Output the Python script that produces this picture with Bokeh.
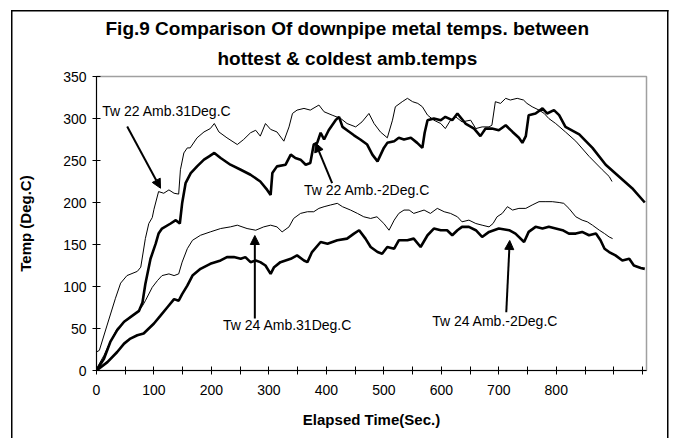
from bokeh.plotting import figure
from bokeh.models import Range1d, FixedTicker, Label, Arrow, NormalHead, Title
from bokeh.embed import file_html
from bokeh.resources import INLINE

# ---- data ----
tw22_hot_x = [0, 5, 18, 33, 42, 53, 71, 77, 85, 91, 97, 100, 108, 117, 126, 135, 143, 146, 152, 158, 163, 175, 187, 198, 205, 213, 227, 245, 256, 268, 277, 285, 294, 303, 314, 326, 335, 341, 349, 361, 372, 387, 396, 410, 425, 436, 451, 462, 474, 483, 494, 506, 515, 520, 532, 541, 550, 559, 567, 576, 587, 599, 607, 616, 625, 636, 651, 660, 671, 683, 688, 694, 703, 712, 720, 732, 743, 749, 758, 770, 779, 787, 799, 816, 834, 857, 880, 892, 897]
tw22_hot_y = [22, 24, 53, 86, 104, 113, 118, 123, 157, 175, 182, 192, 213, 211, 215, 211, 210, 239, 259, 265, 265, 277, 284, 288, 294, 284, 277, 269, 275, 283, 286, 279, 294, 287, 284, 273, 290, 306, 310, 312, 310, 316, 308, 304, 300, 294, 290, 296, 306, 294, 284, 277, 298, 314, 320, 324, 320, 318, 314, 304, 298, 294, 288, 298, 302, 296, 298, 288, 290, 290, 292, 320, 318, 324, 322, 324, 322, 318, 314, 310, 306, 300, 294, 284, 273, 255, 239, 231, 225]

tw22_cold_x = [0, 13, 24, 36, 48, 62, 74, 80, 85, 94, 103, 108, 114, 129, 138, 145, 149, 155, 164, 175, 187, 196, 205, 216, 233, 251, 268, 285, 297, 303, 306, 314, 329, 338, 346, 355, 364, 372, 378, 384, 390, 396, 404, 416, 422, 428, 436, 448, 459, 471, 480, 489, 500, 506, 518, 526, 535, 547, 558, 567, 571, 576, 587, 599, 607, 619, 628, 642, 657, 668, 677, 688, 700, 712, 724, 735, 741, 747, 752, 764, 776, 784, 796, 805, 816, 840, 863, 886, 909, 932, 954]
tw22_cold_y = [0, 14, 34, 48, 58, 65, 71, 81, 103, 133, 151, 163, 169, 175, 179, 175, 199, 223, 235, 243, 251, 255, 259, 253, 245, 239, 233, 225, 215, 209, 235, 243, 245, 257, 253, 251, 245, 247, 269, 271, 283, 275, 286, 298, 302, 290, 286, 280, 275, 269, 257, 249, 265, 271, 273, 277, 275, 277, 271, 265, 283, 298, 300, 298, 302, 298, 306, 294, 288, 279, 288, 288, 286, 292, 284, 277, 271, 279, 304, 306, 312, 306, 310, 304, 290, 281, 265, 245, 231, 217, 200]

tw24_hot_x = [0, 13, 24, 36, 53, 71, 80, 85, 97, 106, 114, 126, 135, 143, 149, 158, 167, 181, 198, 216, 233, 245, 262, 277, 291, 303, 314, 323, 335, 343, 355, 367, 378, 387, 396, 407, 419, 428, 442, 454, 465, 477, 488, 500, 509, 518, 526, 535, 544, 552, 561, 570, 581, 593, 605, 616, 628, 636, 648, 660, 671, 683, 690, 697, 706, 715, 724, 735, 747, 758, 770, 782, 793, 805, 813, 822, 834, 845, 854, 863, 875, 884, 892, 898]
tw24_hot_y = [2, 18, 34, 50, 60, 69, 77, 83, 99, 107, 113, 115, 113, 115, 129, 145, 155, 161, 165, 169, 171, 173, 169, 167, 171, 173, 171, 165, 171, 181, 187, 189, 189, 193, 195, 197, 199, 195, 191, 187, 183, 181, 183, 175, 167, 179, 187, 191, 191, 187, 189, 191, 187, 193, 189, 187, 183, 177, 179, 175, 173, 171, 175, 183, 187, 195, 191, 193, 193, 197, 201, 201, 201, 200, 199, 193, 183, 179, 177, 173, 167, 163, 159, 157]

tw24_cold_x = [0, 19, 36, 48, 59, 71, 82, 91, 100, 111, 123, 135, 143, 149, 158, 167, 181, 198, 216, 227, 239, 251, 259, 268, 277, 285, 294, 303, 309, 320, 338, 349, 361, 367, 375, 390, 402, 419, 436, 448, 457, 468, 477, 489, 497, 506, 518, 526, 541, 552, 564, 576, 587, 599, 610, 619, 628, 636, 648, 660, 671, 683, 700, 718, 729, 744, 752, 764, 776, 787, 799, 811, 822, 834, 845, 857, 869, 877, 884, 892, 903, 915, 927, 935, 947, 954]
tw24_cold_y = [0, 10, 22, 32, 38, 42, 44, 50, 56, 65, 75, 85, 83, 91, 101, 113, 121, 127, 131, 135, 135, 133, 135, 129, 131, 129, 125, 115, 123, 129, 133, 137, 131, 129, 141, 153, 151, 155, 157, 163, 167, 157, 147, 141, 139, 147, 145, 155, 155, 157, 147, 161, 169, 167, 167, 161, 167, 171, 171, 167, 159, 165, 169, 167, 163, 153, 165, 171, 169, 171, 169, 167, 163, 163, 165, 161, 163, 155, 145, 141, 137, 131, 133, 125, 122, 121]

x_ticks = [0, 50, 100, 150, 200, 250, 300, 350, 400, 450, 500, 550, 600, 650, 700, 750, 800, 850, 900, 950]
x_tick_labels = ["0", "", "100", "", "200", "", "300", "", "400", "", "500", "", "600", "", "700", "", "800", "", "", ""]
y_ticks = [0, 50, 100, 150, 200, 250, 300, 350]

title_lines = ["Fig.9 Comparison Of downpipe metal temps. between", "hottest & coldest amb.temps"]
series_names = ["Tw 22 Amb.31Deg.C", "Tw 22 Amb.-2Deg.C", "Tw 24 Amb.31Deg.C", "Tw 24 Amb.-2Deg.C"]

FONT = "Liberation Sans"
X_MAX = 957
Y_MAX = 350

p = figure(width=672, height=438, output_backend="svg", toolbar_location=None,
           x_range=Range1d(0, X_MAX), y_range=Range1d(0, Y_MAX),
           min_border_left=96, min_border_right=26, min_border_top=76, min_border_bottom=68,
           background_fill_color="white", border_fill_color=None)
p.xgrid.visible = False
p.ygrid.visible = False
p.outline_line_color = "#a0a0a0"
p.outline_line_width = 1.5

# outer chart border drawn behind the (transparent) canvas border area
g = "linear-gradient(#000,#000)"
p.styles = {
    "background-color": "white",
    "background-image": f"{g}, {g}, {g}",
    "background-position": "11px 10px, 11px 10px, 667px 10px",
    "background-size": "1.5px 600px, 657.5px 1.5px, 1.5px 600px",
    "background-repeat": "no-repeat",
}

# titles
p.add_layout(Title(text=title_lines[1], align="left", offset=121, text_font=FONT,
                   text_font_size="19px", text_font_style="bold", text_color="black", standoff=15), "above")
p.add_layout(Title(text=title_lines[0], align="left", offset=9, text_font=FONT,
                   text_font_size="19px", text_font_style="bold", text_color="black", standoff=0), "above")

# axes
for ax in (p.xaxis[0], p.yaxis[0]):
    ax.axis_line_color = "black"
    ax.major_tick_line_color = "black"
    ax.minor_tick_line_color = None
    ax.major_tick_in = 4
    ax.major_tick_out = 4
    ax.major_label_text_font = FONT
    ax.major_label_text_font_size = "14px"
    ax.major_label_text_color = "black"
    ax.axis_label_text_font = FONT
    ax.axis_label_text_font_style = "bold"
    ax.axis_label_text_color = "black"

p.xaxis.ticker = FixedTicker(ticks=x_ticks)
p.xaxis.major_label_overrides = {t: lab for t, lab in zip(x_ticks, x_tick_labels)}
p.xaxis.axis_label = "Elapsed Time(Sec.)"
p.xaxis.axis_label_text_font_size = "15px"
p.xaxis.major_label_standoff = 10
p.xaxis.axis_label_standoff = 13

p.yaxis.ticker = FixedTicker(ticks=y_ticks)
p.yaxis.axis_label = "Temp (Deg.C)"
p.yaxis.axis_label_text_font_size = "15px"
p.yaxis.major_label_standoff = 6
p.yaxis.axis_label_standoff = 26

# lines
p.line(tw22_hot_x, tw22_hot_y, line_color="black", line_width=1)
p.line(tw22_cold_x, tw22_cold_y, line_color="black", line_width=2.6)
p.line(tw24_hot_x, tw24_hot_y, line_color="black", line_width=1)
p.line(tw24_cold_x, tw24_cold_y, line_color="black", line_width=2.6)

# annotations
labels = [(10, 309.5, series_names[0]), (361, 214.3, series_names[1]),
          (220, 53.6, series_names[2]), (584, 59.5, series_names[3])]
for lx, ly, txt in labels:
    p.add_layout(Label(x=lx, y=ly, text=txt, text_font=FONT, text_font_size="14px",
                       text_baseline="middle", text_color="black"))

arrows = [(53.4, 290.5, 111.4, 217.0), (410, 223, 381, 271),
          (275.5, 62, 275.5, 160.7), (713, 69.4, 719, 154.8)]
for x0, y0, x1, y1 in arrows:
    p.add_layout(Arrow(end=NormalHead(size=9, fill_color="black", line_color="black"),
                       x_start=x0, y_start=y0, x_end=x1, y_end=y1,
                       line_color="black", line_width=2))

open("out.html", "w").write(file_html(p, INLINE))
